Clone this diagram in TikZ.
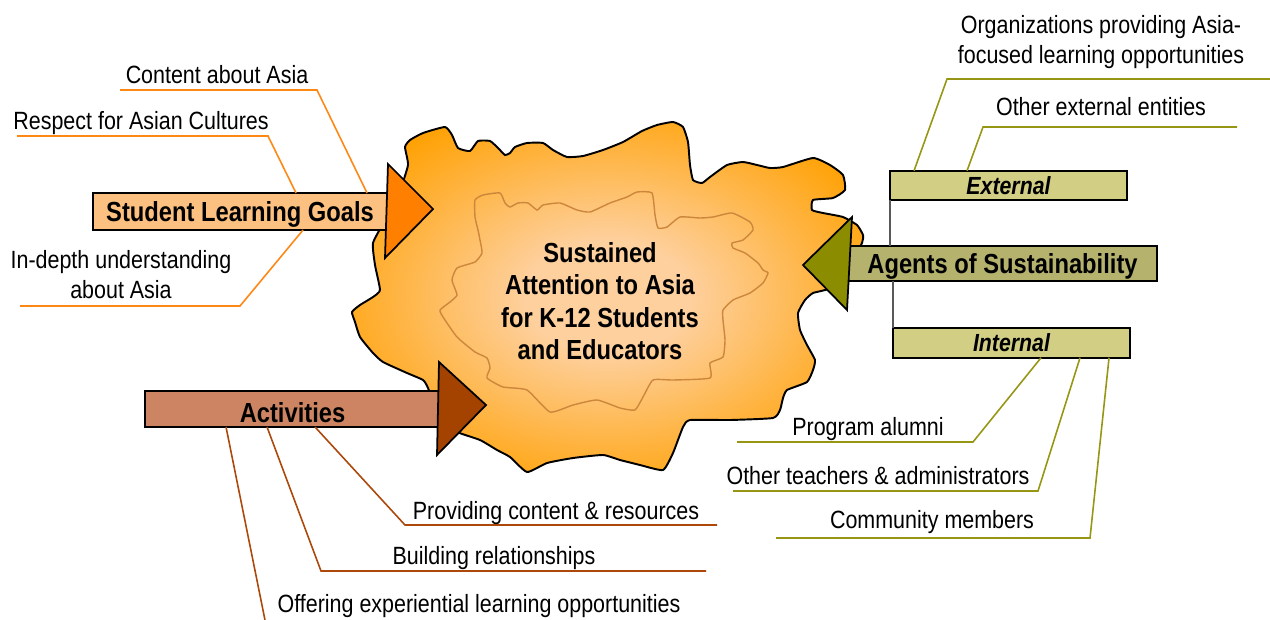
\documentclass[tikz,border=0pt]{standalone}
\usepackage{fontspec}
\setmainfont{Liberation Sans}[FakeStretch=0.86]
\usetikzlibrary{calc}

\definecolor{goalfill}{RGB}{252,192,128}
\definecolor{goalhead}{RGB}{255,128,0}
\definecolor{goalline}{RGB}{255,135,20}
\definecolor{actfill}{RGB}{205,132,98}
\definecolor{acthead}{RGB}{164,66,0}
\definecolor{actline}{RGB}{172,72,10}
\definecolor{agentfill}{RGB}{181,178,110}
\definecolor{agenthead}{RGB}{140,140,0}
\definecolor{kindfill}{RGB}{210,206,132}
\definecolor{agentline}{RGB}{150,150,20}
\definecolor{blobout}{RGB}{255,160,0}
\definecolor{blobin}{RGB}{254,208,158}
\definecolor{blobedge}{RGB}{205,135,60}

\pgfdeclareradialshading{blobshade}{\pgfpoint{0bp}{0bp}}{color(0bp)=(blobin); color(8bp)=(blobin); color(30bp)=(blobout); color(50bp)=(blobout)}

\begin{document}
\begin{tikzpicture}[x=0.02cm, y=-0.02cm,
    every node/.style={inner sep=0pt, outer sep=0pt},
    note/.style={font=\fontsize{14.2}{17}\selectfont, anchor=base},
    notes/.style={font=\fontsize{14.2}{17}\selectfont, align=center},
    bigbox/.style={draw=black, line width=1.1pt, text height=11.2pt, text depth=0pt, font=\fontsize{15.7}{18.5}\selectfont\bfseries},
    kindbox/.style={draw=black, line width=1.1pt, fill=kindfill, minimum width=4.74cm, minimum height=0.59cm, text height=10.1pt, text depth=0pt, font=\fontsize{14.1}{17}\selectfont\bfseries\itshape},
    bighead/.style={draw=black, line width=1pt, line join=miter},
    goalleg/.style={draw=goalline, line width=0.9pt},
    actleg/.style={draw=actline, line width=0.9pt},
    agentleg/.style={draw=agentline, line width=0.9pt},
    stem/.style={draw=black!65, line width=0.9pt}]
    \useasboundingbox (0, 0) rectangle (1270, 619);

    % the blob in the middle
    \shadedraw[shading=blobshade, draw=black, line width=1.1pt] plot[smooth cycle, tension=0.3] coordinates {
        (405,147) (410,140) (423,133) (445,127) (452,135) (458,148) (470,151) (478,141) (490,141) (498,148)
        (505,155) (510,153) (515,147) (527,143) (543,143) (553,150) (567,157) (583,156) (603,150) (623,142)
        (642,131) (657,125) (673,122) (683,127) (688,142) (690,165) (693,180) (702,183) (710,177) (727,165)
        (743,162) (757,165) (770,168) (783,167) (813,158) (830,165) (843,175) (845,190) (833,198) (813,200)
        (812,210) (823,213) (843,217) (857,225) (863,235) (862,243) (850,265) (830,288) (813,293) (805,300)
        (798,313) (800,330) (807,345) (815,360) (813,370) (807,382) (787,390) (783,398) (780,410) (773,418)
        (730,420) (690,420) (683,427) (673,453) (663,470) (640,465) (620,460) (603,455) (573,458) (547,463)
        (527,472) (510,457) (497,450) (480,440) (457,432) (440,420) (428,388) (423,380) (407,373) (383,362)
        (373,353) (360,337) (355,322) (352,312) (360,305) (373,297) (380,290) (375,265) (373,243) (385,220)
        (400,190) (408,165)};
    \draw[blobedge, line width=0.8pt] plot[smooth cycle, tension=0.3] coordinates {
        (475,200) (483,195) (500,193) (505,203) (510,207) (518,203) (528,203) (537,210) (543,205) (560,203)
        (577,210) (590,212) (610,203) (627,197) (637,192) (652,193) (655,215) (658,228) (667,227) (680,217)
        (700,218) (713,217) (732,213) (750,222) (753,230) (743,240) (732,243) (733,248) (745,253) (758,263)
        (763,270) (768,273) (763,283) (750,293) (733,300) (723,310) (723,320) (725,340) (723,357) (710,363)
        (710,378) (673,380) (653,380) (643,397) (635,410) (620,408) (597,400) (573,405) (550,412) (527,390)
        (503,387) (487,378) (490,368) (487,358) (475,352) (457,337) (443,317) (440,310) (450,302) (457,295)
        (452,280) (457,268) (475,262) (482,253) (480,240) (478,230) (475,217)};
    \node[font=\fontsize{15.7}{18.5}\selectfont\bfseries, align=center](focus) at (600, 301) {Sustained\\Attention to Asia\\for K-12 Students\\and Educators};

    % student learning goals
    \node[bigbox, fill=goalfill, minimum width=5.88cm, minimum height=0.74cm](goals) at (240, 211.5) {Student Learning Goals};
    \draw[bighead, fill=goalhead] (388, 164) -- (433, 209) -- (385, 258) -- cycle;

    \node[note](content) at (217, 83) {Content about Asia};
    \coordinate (content_r) at (317, 90);
    \coordinate (content_l) at (120, 90);
    \node[note](respect) at (141, 129) {Respect for Asian Cultures};
    \coordinate (respect_r) at (268, 136);
    \coordinate (respect_l) at (17, 136);
    \node[notes](depth) at (121, 275) {In-depth understanding\\about Asia};
    \coordinate (depth_r) at (240, 306);
    \coordinate (depth_l) at (20, 306);

    \draw[goalleg] ($(goals.north west)+(274, 0)$) -- (content_r) -- (content_l);
    \draw[goalleg] ($(goals.north west)+(203, 0)$) -- (respect_r) -- (respect_l);
    \draw[goalleg] ($(goals.south west)+(210, 0)$) -- (depth_r) -- (depth_l);

    % activities
    \node[bigbox, fill=actfill, minimum width=5.9cm, minimum height=0.72cm, text height=15.8pt](activities) at (292.5, 409) {Activities};
    \draw[bighead, fill=acthead] (439, 362) -- (486, 405) -- (437, 455) -- cycle;

    \node[note](providing) at (556, 519) {Providing content \& resources};
    \coordinate (providing_l) at (405, 525);
    \coordinate (providing_r) at (717, 525);
    \node[note](building) at (494, 564) {Building relationships};
    \coordinate (building_l) at (321, 571);
    \coordinate (building_r) at (706, 571);
    \node[note](offering) at (479, 612) {Offering experiential learning opportunities};
    \coordinate (offering_l) at (266, 625);

    \draw[actleg] ($(activities.south west)+(170, 0)$) -- (providing_l) -- (providing_r);
    \draw[actleg] ($(activities.south west)+(122, 0)$) -- (building_l) -- (building_r);
    \draw[actleg] ($(activities.south west)+(81, 0)$) -- (offering_l);

    % agents of sustainability
    \node[kindbox](external) at (1008.5, 185.5) {External};
    \node[kindbox](internal) at (1011.5, 343) {Internal};
    \node[bigbox, fill=agentfill, minimum width=6.18cm, minimum height=0.7cm](agents) at (1002.5, 263.5) {Agents of Sustainability};
    \draw[stem] (external.south west) -- (external.south west |- agents.north);
    \draw[stem] (internal.north west) -- (internal.north west |- agents.south);
    \draw[bighead, fill=agenthead] (852, 217) -- (803, 265) -- (847, 310) -- cycle;

    \node[notes](organizations) at (1101, 42) {Organizations providing Asia-\\focused learning opportunities};
    \coordinate (organizations_l) at (947, 79);
    \coordinate (organizations_r) at (1275, 79);
    \node[note](entities) at (1101, 115) {Other external entities};
    \coordinate (entities_l) at (983, 127);
    \coordinate (entities_r) at (1237, 127);

    \draw[agentleg] ($(external.north west)+(24, 0)$) -- (organizations_l) -- (organizations_r);
    \draw[agentleg] ($(external.north west)+(77, 0)$) -- (entities_l) -- (entities_r);

    \node[note](alumni) at (868, 435) {Program alumni};
    \coordinate (alumni_r) at (973, 442);
    \coordinate (alumni_l) at (737, 442);
    \node[note](teachers) at (878, 484) {Other teachers \& administrators};
    \coordinate (teachers_r) at (1038, 491);
    \coordinate (teachers_l) at (733, 491);
    \node[note](community) at (932, 528) {Community members};
    \coordinate (community_r) at (1090, 538);
    \coordinate (community_l) at (776, 538);

    \draw[agentleg] ($(internal.south west)+(148, 0)$) -- (alumni_r) -- (alumni_l);
    \draw[agentleg] ($(internal.south west)+(187, 0)$) -- (teachers_r) -- (teachers_l);
    \draw[agentleg] ($(internal.south west)+(216, 0)$) -- (community_r) -- (community_l);
\end{tikzpicture}
\end{document}
